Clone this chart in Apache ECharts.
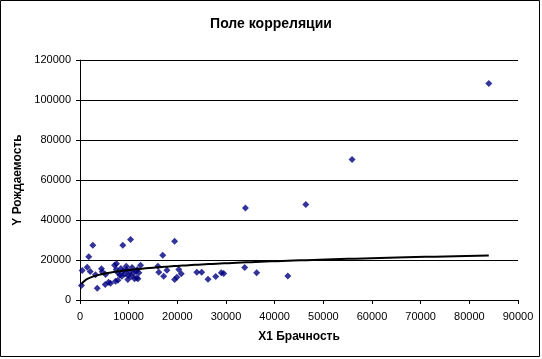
<!DOCTYPE html>
<html>
<head>
<meta charset="utf-8">
<script src="https://cdn.jsdelivr.net/npm/echarts@6/dist/echarts.min.js"></script>
<style>
html,body{margin:0;padding:0;background:#fff;}
#c{width:542px;height:359px;}
</style>
</head>
<body>
<div id="c"></div>
<script>
// X1 Брачность values
var xValues = [300,450,1480,1800,2100,2630,3190,3540,4400,4570,5180,5250,5860,6270,7100,7300,7500,7440,7780,7780,8200,8600,8400,8800,8900,9200,9500,9600,9830,9900,10200,10390,10530,10700,11000,11200,11560,11620,11760,11900,12100,12450,16000,16200,17000,17200,17860,19440,19440,19900,20300,20800,24000,25000,26300,27900,29040,29520,34000,33840,36300,42700,46400,55900,84000];
// Y Рождаемость values
var yValues = [7300,14750,16400,21600,14300,27400,12600,5900,15600,14100,7750,12750,8900,8400,17400,9400,18100,15250,9900,13600,12500,11900,15800,27400,14500,13000,16900,15200,10250,12200,14100,30250,11900,16200,13500,10600,14400,11100,15250,10600,13600,17400,16900,13900,22400,11900,14900,29400,10250,11400,15250,13100,13900,13900,10400,11750,13600,13300,46000,16250,13600,12000,47700,70200,108200];
var titleText = 'Поле корреляции';
var xName = 'X1 Брачность';
var yName = 'Y Рождаемость';

var pts = xValues.map(function(x,i){return [x,yValues[i]];});

// Power trendline (least squares on ln x, ln y), as Excel does
var n = pts.length, sx=0, sy=0, sxx=0, sxy=0;
pts.forEach(function(p){var lx=Math.log(p[0]), ly=Math.log(p[1]); sx+=lx; sy+=ly; sxx+=lx*lx; sxy+=lx*ly;});
var b = (n*sxy - sx*sy)/(n*sxx - sx*sx);
var a = Math.exp((sy - b*sx)/n);
var xmin = Math.min.apply(null,xValues), xmax = Math.max.apply(null,xValues);
var trend = [];
for (var k=0;k<=200;k++){
  var lx = Math.log(xmin) + (Math.log(xmax)-Math.log(xmin))*k/200;
  var x = Math.exp(lx);
  trend.push([x, a*Math.pow(x,b)]);
}

var chart = echarts.init(document.getElementById('c'), null, {renderer:'canvas'});
var font = '"Liberation Sans", Arial, sans-serif';
function plain(v){return String(v);}
chart.setOption({
  animation:false,
  backgroundColor:'#fff',
  title:{text:titleText,left:'center',top:12,textStyle:{fontFamily:font,fontSize:14,fontWeight:'bold',color:'#000'}},
  graphic:[{type:'rect',shape:{x:0.5,y:0.5,width:539,height:356},style:{fill:'none',stroke:'#000',lineWidth:1},silent:true}],
  grid:{left:80,right:24,top:60,bottom:59,containLabel:false},
  xAxis:{type:'value',min:0,max:90000,interval:10000,
    name:xName,nameLocation:'middle',nameGap:31,
    nameTextStyle:{fontFamily:font,fontSize:12,fontWeight:'bold',color:'#000'},
    axisLine:{lineStyle:{color:'#000',width:1}},
    axisTick:{show:true,length:4,inside:false,lineStyle:{color:'#000'}},
    axisLabel:{fontFamily:font,fontSize:11,color:'#000',margin:11,formatter:plain},
    splitLine:{show:false}},
  yAxis:{type:'value',min:0,max:120000,interval:20000,
    name:yName,nameLocation:'middle',nameGap:47,
    nameTextStyle:{fontFamily:font,fontSize:12,fontWeight:'bold',color:'#000'},
    axisLine:{show:true,lineStyle:{color:'#000',width:1}},
    axisTick:{show:true,length:4,inside:false,lineStyle:{color:'#000'}},
    axisLabel:{fontFamily:font,fontSize:11,color:'#000',margin:9,formatter:plain},
    splitLine:{show:true,lineStyle:{color:'#000',width:1}}},
  series:[
    {type:'scatter',data:pts,symbol:'diamond',symbolSize:7,itemStyle:{color:'#000080'},z:2},
    {type:'line',data:trend,showSymbol:false,symbol:'none',lineStyle:{color:'#000',width:2},z:3,silent:true}
  ]
});
</script>
</body>
</html>
